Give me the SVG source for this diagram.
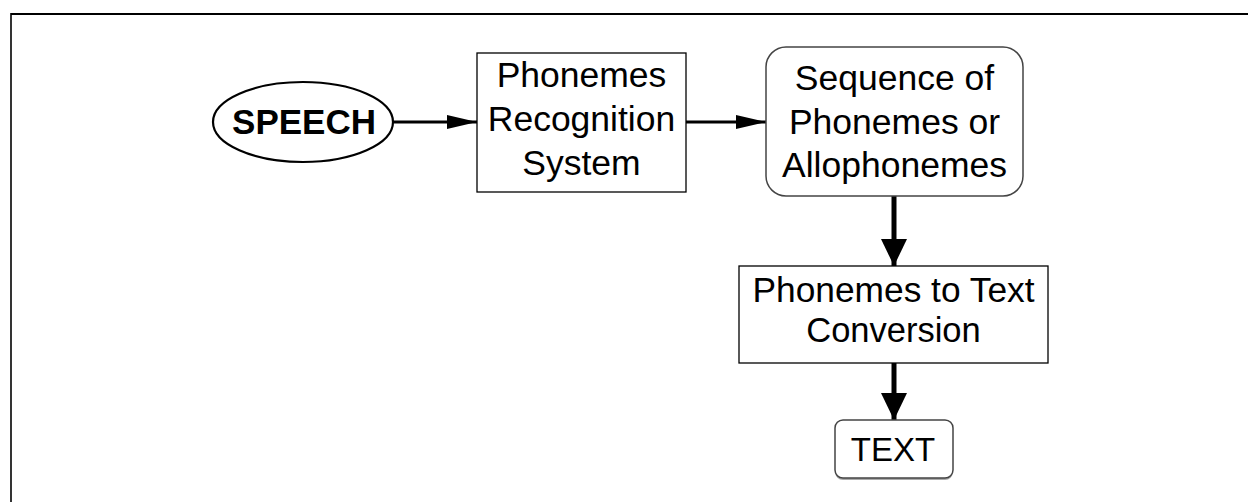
<svg xmlns="http://www.w3.org/2000/svg" width="1248" height="502" viewBox="0 0 1248 502">
  <style>
    .lbl { font-family: "Liberation Sans", Arial, sans-serif; font-size: 35.5px; fill: #000; text-anchor: middle; }
    .bold { font-weight: bold; font-size: 35px; }
    .small { font-size: 33px; }
    .mid { font-size: 34.5px; }
    .box { fill: #fff; stroke: #000; stroke-width: 1.3; }
    .rbox { fill: #fff; stroke: #444; stroke-width: 1.5; }
    .conn { stroke: #000; fill: none; }
  </style>
  <defs>
    <marker id="ah" markerUnits="userSpaceOnUse" markerWidth="30" markerHeight="14" refX="30" refY="7" orient="auto">
      <path d="M0,0 L30,7 L0,14 z" fill="#000"/>
    </marker>
    <marker id="av" markerUnits="userSpaceOnUse" markerWidth="27" markerHeight="26" refX="27" refY="13" orient="auto">
      <path d="M0,0 L27,13 L0,26 z" fill="#000"/>
    </marker>
  </defs>
  <rect width="1248" height="502" fill="#fff"/>
  <g id="frame" fill="none" stroke="#000">
    <line x1="11" y1="14" x2="1248" y2="14" stroke-width="2.2"/>
    <line x1="11" y1="13" x2="11" y2="502" stroke-width="1.6"/>
  </g>
  <g id="connectors">
    <line class="conn" x1="394" y1="122" x2="477" y2="122" stroke-width="3.2" marker-end="url(#ah)"/>
    <line class="conn" x1="686" y1="122" x2="766" y2="122" stroke-width="3.2" marker-end="url(#ah)"/>
    <line class="conn" x1="894" y1="196" x2="894" y2="266" stroke-width="5" marker-end="url(#av)"/>
    <line class="conn" x1="894" y1="363" x2="894" y2="420" stroke-width="5" marker-end="url(#av)"/>
  </g>
  <g id="speech">
    <ellipse cx="303" cy="122" rx="90" ry="40" fill="#fff" stroke="#000" stroke-width="2.2"/>
    <text class="lbl bold" x="304" y="134">SPEECH</text>
  </g>
  <g id="recognition">
    <rect class="box" x="477" y="53" width="209" height="139"/>
    <text class="lbl" x="581.5" y="87">Phonemes</text>
    <text class="lbl" x="581.5" y="131">Recognition</text>
    <text class="lbl" x="581.5" y="175">System</text>
  </g>
  <g id="sequence">
    <rect class="rbox" x="766" y="47" width="257" height="149" rx="20" ry="20"/>
    <text class="lbl" x="894.5" y="90">Sequence of</text>
    <text class="lbl" x="894.5" y="134">Phonemes or</text>
    <text class="lbl" x="894.5" y="177">Allophonemes</text>
  </g>
  <g id="conversion">
    <rect class="box" x="739" y="266" width="309" height="97"/>
    <text class="lbl mid" x="893.5" y="302" textLength="282" lengthAdjust="spacingAndGlyphs">Phonemes to Text</text>
    <text class="lbl mid" x="893.5" y="342">Conversion</text>
  </g>
  <g id="text-node">
    <rect x="835" y="422" width="118" height="58" rx="8" ry="8" fill="#aaa" stroke="none"/>
    <rect class="rbox" x="835" y="420" width="118" height="58" rx="8" ry="8"/>
    <text class="lbl small" x="893" y="461">TEXT</text>
  </g>
</svg>
